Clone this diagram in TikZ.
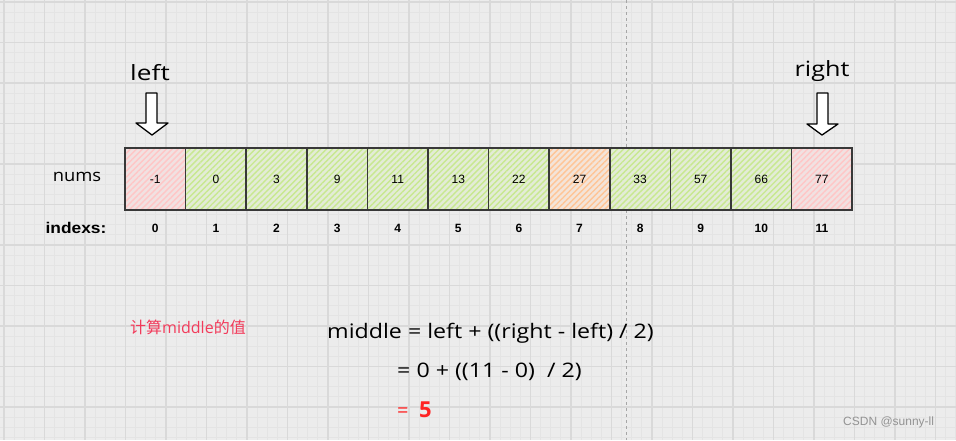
\documentclass[tikz,border=0pt]{standalone}
\usepackage{fontspec}
\setmainfont{Liberation Sans}
\newfontfamily\hand{Open Sans}
\newfontfamily\cjk{Noto Sans CJK SC}
\usetikzlibrary{patterns.meta}
\definecolor{bgc}{HTML}{ECECEC}
\definecolor{minorc}{HTML}{E4E4E4}
\definecolor{majorc}{HTML}{D9D9D9}
\definecolor{gh}{HTML}{C8E890}
\definecolor{gb}{HTML}{E3ECD6}
\definecolor{rh}{HTML}{FFC6C6}
\definecolor{rb}{HTML}{F1E1E1}
\definecolor{oh}{HTML}{FFC596}
\definecolor{ob}{HTML}{F4E4D8}
\definecolor{edgec}{HTML}{383838}
\definecolor{pinkred}{HTML}{F23A5A}
\definecolor{brightred}{HTML}{FF2424}
\tikzset{
  cellbox/.style 2 args={draw=edgec, line width=1.6pt, preaction={fill=#2},
    pattern={Lines[angle=45,distance=4.2pt,line width=1.4pt]}, pattern color=#1,
    minimum width=60.6pt, minimum height=62pt, inner sep=0pt, outer sep=0pt,
    anchor=north west, font=\fontsize{12}{14}\selectfont},
  idxlabel/.style={font=\fontsize{12}{14}\selectfont\bfseries},
  handtext/.style={font=\hand\fontsize{#1}{#1}\selectfont, inner sep=0pt},
  hollowarrow/.style={draw=black, line width=1.3pt, fill=white, line join=round},
}
\begin{document}
\begin{tikzpicture}[x=1pt,y=-1pt]
\useasboundingbox (0,0) rectangle (956,440);
\fill[bgc] (0,0) rectangle (956,440);
% minor grid
\foreach \i in {0,...,95} {
  \draw[minorc, line width=1pt] ({4+10.125*\i},0) -- ({4+10.125*\i},440);
}
\foreach \j in {0,...,44} {
  \draw[minorc, line width=1pt] (0,{2+10.125*\j}) -- (956,{2+10.125*\j});
}
% major grid
\foreach \i in {0,...,23} {
  \draw[majorc, line width=1.3pt] ({4+40.5*\i},0) -- ({4+40.5*\i},440);
}
\foreach \j in {0,...,10} {
  \draw[majorc, line width=1.3pt] (0,{2+40.5*\j}) -- (956,{2+40.5*\j});
}
% dashed guide
\coordinate (dtop) at (626,0);
\coordinate (dbot) at (626,440);
\draw[gray!70, line width=0.8pt, dash pattern=on 3pt off 3pt] (dtop) -- (dbot);

% cells
\foreach \v [count=\k from 0] in {-1,0,3,9,11,13,22,27,33,57,66,77} {
  \ifnum\k=0 \def\hc{rh}\def\bc{rb}\else
  \ifnum\k=11 \def\hc{rh}\def\bc{rb}\else
  \ifnum\k=7 \def\hc{oh}\def\bc{ob}\else
  \def\hc{gh}\def\bc{gb}\fi\fi\fi
  \node[cellbox={\hc}{\bc}] (c\k) at ({125+60.6*\k},148) {\v};
  \node[idxlabel] (i\k) at ({155.3+60.6*\k},228) {\k};
}

\node[handtext=17, xscale=1.08] (nums) at (77,177) {nums};
\node[idxlabel, font=\fontsize{15.5}{17}\selectfont\bfseries, xscale=1.12] (indexs) at (76,228) {indexs:};

% pointers
\node[handtext=21, xscale=1.25] (leftlbl) at (150,73) {left};
\node[handtext=21, xscale=1.2] (rightlbl) at (822,71) {right};
\draw[hollowarrow] (146,93) -- (157,93) -- (157,123) -- (168,123) -- (152,135) -- (136,123) -- (146,123) -- cycle;
\draw[hollowarrow] (817,93) -- (828,93) -- (828,124) -- (838,124) -- (822,135) -- (807,124) -- (817,124) -- cycle;

% formula
\node[handtext=16, text=pinkred, anchor=west] (calc) at (130,327) {\cjk 计算\hand middle\cjk 的值};
\node[handtext=20, anchor=west, xscale=1.16] (f1) at (327,333) {middle = left + ((right - left) / 2)};
\node[handtext=20, anchor=west, xscale=1.16] (f2) at (397,372) {= 0 + ((11 - 0) \ / 2)};
\node[handtext=20, anchor=west, text=brightred] (f3) at (397,410) {= \ \textbf{\fontsize{22}{22}\selectfont 5}};

\node[font=\fontsize{12}{14}\selectfont, text=gray!85, anchor=west, inner sep=0pt] (wm) at (843,422) {CSDN @sunny-ll};
\end{tikzpicture}
\end{document}
